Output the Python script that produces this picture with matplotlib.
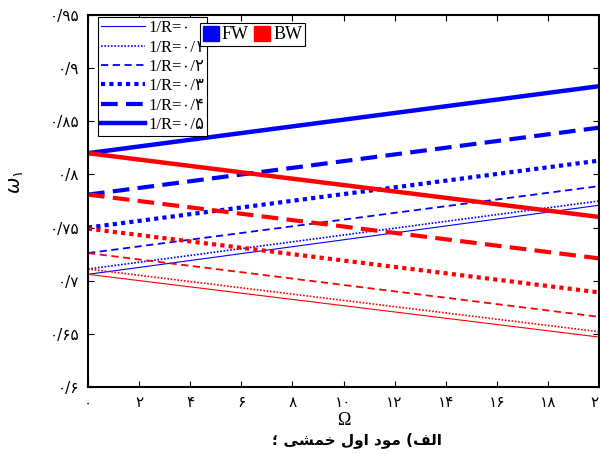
import matplotlib
matplotlib.use('Agg')
import matplotlib.pyplot as plt
from matplotlib.patches import Patch

# Omega axis (only the end points are needed, the curves are straight)
omega = [0, 20]

# curvature values and their legend labels
curv_labels = ['1/R=۰', '1/R=۰/۱', '1/R=۰/۲', '1/R=۰/۳', '1/R=۰/۴', '1/R=۰/۵']

# forward whirl (blue)
fw = [
    [0.706, 0.771],
    [0.711, 0.775],
    [0.726, 0.789],
    [0.750, 0.813],
    [0.781, 0.844],
    [0.820, 0.883],
]

# backward whirl (red)
bw = [
    [0.706, 0.647],
    [0.711, 0.652],
    [0.726, 0.666],
    [0.749, 0.689],
    [0.781, 0.721],
    [0.820, 0.760],
]

x_ticks = [0, 2, 4, 6, 8, 10, 12, 14, 16, 18, 20]
x_tick_labels = ['۰', '۲', '۴', '۶', '۸', '۱۰', '۱۲', '۱۴', '۱۶', '۱۸', '۲۰']
y_ticks = [0.6, 0.65, 0.7, 0.75, 0.8, 0.85, 0.9, 0.95]
y_tick_labels = ['۰/۶', '۰/۶۵', '۰/۷', '۰/۷۵', '۰/۸', '۰/۸۵', '۰/۹', '۰/۹۵']

# styles for each 1/R
estilos = [
    dict(ls='-', lw=0.8),
    dict(ls=(0, (1, 1)), lw=1.2),
    dict(ls=(0, (4, 2.5)), lw=1.3),
    dict(ls=(0, (1, 1)), lw=3.0),
    dict(ls=(0, (4, 2)), lw=3.0),
    dict(ls='-', lw=3.2),
]

serif = ['Liberation Serif', 'DejaVu Sans']

fig = plt.figure(figsize=(6.0, 4.54), dpi=100)
ax = fig.add_axes([88 / 600, 1 - 387 / 454, 511 / 600, 372 / 454])

linhas = []
for i in range(len(curv_labels)):
    l, = ax.plot(omega, fw[i], color='blue', label=curv_labels[i], **estilos[i])
    ax.plot(omega, bw[i], color='red', **estilos[i])
    linhas.append(l)

ax.set_xlim(0, 20)
ax.set_ylim(0.6, 0.95)
ax.set_xticks(x_ticks)
ax.set_xticklabels(x_tick_labels, fontsize=11, family='DejaVu Sans')
ax.set_yticks(y_ticks)
ax.set_yticklabels(y_tick_labels, fontsize=11, family='DejaVu Sans')
ax.tick_params(direction='in', top=True, right=True, length=4, width=0.8, pad=6)
for s in ax.spines.values():
    s.set_linewidth(1.5)

leg1 = ax.legend(handles=linhas, loc='upper left', bbox_to_anchor=(10 / 511, 1 - 2 / 372),
                 borderaxespad=0, prop={'family': serif, 'size': 12}, handlelength=2.6,
                 labelspacing=0.2, borderpad=0.2, handletextpad=0.2,
                 fancybox=False, edgecolor='black', framealpha=1)
leg1.get_frame().set_linewidth(0.8)
ax.add_artist(leg1)

patches = [Patch(color='blue', label='FW'), Patch(color='red', label='BW')]
leg2 = ax.legend(handles=patches, loc='upper left', bbox_to_anchor=(112 / 511, 1 - 8 / 372),
                 borderaxespad=0, ncol=2, prop={'family': serif, 'size': 13},
                 handlelength=0.9, handleheight=0.9, handletextpad=0.15,
                 columnspacing=0.3, borderpad=0.15, fancybox=False,
                 edgecolor='black', framealpha=1)
leg2.get_frame().set_linewidth(0.8)

ax.set_xlabel('Ω', fontsize=13, family=serif, labelpad=1)

# ylabel omega_1
fig.text(0.028, 1 - 182 / 454, r'$\omega_{۱}$', rotation=90, fontsize=14,
         ha='center', va='center')

# caption in visual order (presentation forms)
legenda = ('\u061B ' + '\uFEF0\uFEB8\uFEE4\uFEA7' + ' ' + '\uFEDD\uFEED\uFE8D' + ' '
           + '\uFEA9\uFEEE\uFEE3' + ' (' + '\uFED2\uFEDF\uFE8D')
fig.text(357 / 600, 1 - 440 / 454, legenda, fontsize=11, fontweight='bold',
         family='DejaVu Sans', ha='center', va='center')

fig.savefig('out.png', dpi=100)
